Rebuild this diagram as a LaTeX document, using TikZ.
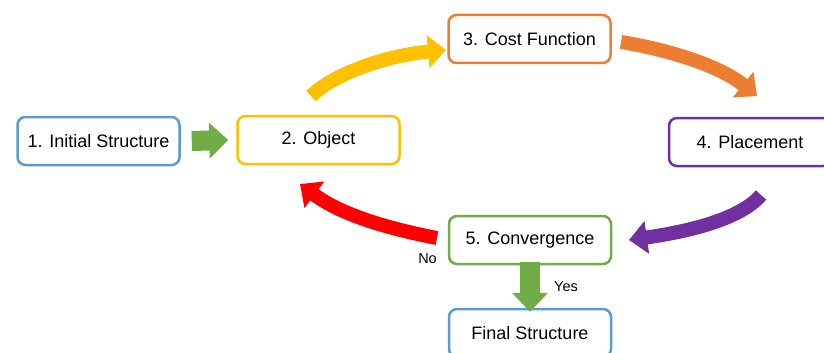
\documentclass[tikz,border=0pt]{standalone}
\usepackage{fontspec}
\setmainfont{Liberation Sans}
\usetikzlibrary{arrows.meta}
\definecolor{cblue}{RGB}{91,155,213}
\definecolor{corange}{RGB}{237,125,49}
\definecolor{cyellow}{RGB}{255,192,0}
\definecolor{cpurple}{RGB}{112,48,160}
\definecolor{cgreen}{RGB}{112,173,71}
\definecolor{cred}{RGB}{255,0,0}
\tikzset{
  stepbox/.style={draw, line width=2.5pt, rounded corners=8pt, fill=white,
    minimum width=162pt, minimum height=48pt, inner sep=0pt,
    font=\fontsize{18}{20}\selectfont, text=black},
  bigarrow/.style={line width=14pt, -{Triangle[length=18pt,width=32pt]}},
  grarrow/.style={draw=cgreen, line width=20pt, -{Triangle[length=19pt,width=35pt]}},
  lbl/.style={font=\fontsize{14.5}{16}\selectfont, inner sep=0pt}
}
\begin{document}
\begin{tikzpicture}[x=1pt,y=-1pt]
\useasboundingbox (0,0) rectangle (824,353);
\node[stepbox, draw=cblue] (n1) at (98.5,141) {1. Initial Structure};
\node[stepbox, draw=cyellow] (n2) at (318.5,140) {2. Object};
\node[stepbox, draw=corange] (n3) at (529.5,39) {3. Cost Function};
\node[stepbox, draw=cpurple] (n4) at (750,142) {4. Placement};
\node[stepbox, draw=cgreen] (n5) at (530,240) {5. Convergence};
\node[stepbox, draw=cblue] (n6) at (530,333) {Final Structure};
% free ends of curved arrows
\coordinate (y1) at (311,96);
\coordinate (y2) at (446,50);
\coordinate (o1) at (621,42);
\coordinate (o2) at (757,96);
\coordinate (r1) at (437,238);
\coordinate (r2) at (300,184);
\coordinate (p1) at (761,195);
\coordinate (p2) at (629,240);
\draw[bigarrow, draw=cyellow] (y1) .. controls (336,72) and (390,55) .. (y2);
\draw[bigarrow, draw=corange] (o1) .. controls (670,50) and (720,66) .. (o2);
\draw[bigarrow, draw=cred] (r1) .. controls (385,228) and (340,214) .. (r2);
\draw[bigarrow, draw=cpurple] (p1) .. controls (740,220) and (685,232) .. (p2);
% straight green arrows
\draw[grarrow] ([xshift=11pt]n1.east) -- ([xshift=-8pt]n2.west);
\draw[grarrow] ([yshift=3pt]n5.south) -- ([yshift=-4pt]n6.north);
\node[lbl, anchor=east] (no) at (437,259) {No};
\node[lbl, anchor=west] (yes) at (554,287) {Yes};
\end{tikzpicture}
\end{document}
